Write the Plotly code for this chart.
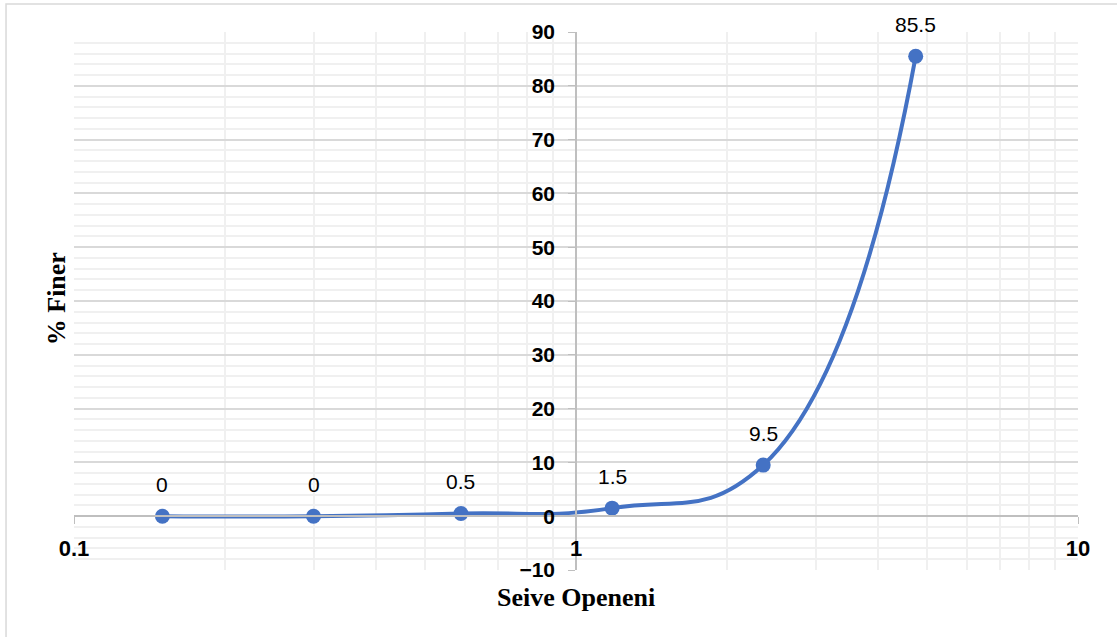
import math
import plotly.graph_objects as go

# Sieve analysis: opening size (mm) vs cumulative percent finer
sieve_size = [0.15, 0.3, 0.59, 1.18, 2.36, 4.75]
percent_finer = [0, 0, 0.5, 1.5, 9.5, 85.5]
point_labels = ["0", "0", "0.5", "1.5", "9.5", "85.5"]

x_range = [0.1, 10]
y_range = [-10, 90]
x_tick_vals = [0.1, 1, 10]
x_tick_text = ["0.1", "1", "10"]
x_minor_vals = [m * d for d in (0.1, 1) for m in range(2, 10)]

LINE_BLUE = "#4472C4"
MAJOR_GRID = "#d9d9d9"
MINOR_GRID = "#f0f0f0"
AXIS_GRAY = "#bfbfbf"
NUM_FONT = "Liberation Sans"
TITLE_FONT = "Liberation Serif"

# axis crossings: y axis at x = 1, x axis at y = 0
log_lo, log_hi = math.log10(x_range[0]), math.log10(x_range[1])
y_axis_pos = (math.log10(1) - log_lo) / (log_hi - log_lo)
x_axis_pos = (0 - y_range[0]) / (y_range[1] - y_range[0])

fig = go.Figure()
fig.add_trace(go.Scatter(
    x=sieve_size,
    y=percent_finer,
    mode="lines+markers",
    line=dict(color=LINE_BLUE, width=4, shape="spline", smoothing=1.3),
    marker=dict(color=LINE_BLUE, size=15),
    hoverinfo="x+y",
    showlegend=False,
))

for xv, yv, lab in zip(sieve_size, percent_finer, point_labels):
    fig.add_annotation(
        x=math.log10(xv), y=yv, xref="x", yref="y", text=lab,
        showarrow=False, yshift=32,
        font=dict(family=NUM_FONT, size=21, color="#000000"),
    )

fig.add_annotation(
    x=0.5, y=-0.052, xref="paper", yref="paper", text="<b>Seive Openeni</b>",
    showarrow=False, xanchor="center", yanchor="middle",
    font=dict(family=TITLE_FONT, size=26, color="#000000"),
)
fig.add_annotation(
    x=-0.018, y=0.505, xref="paper", yref="paper", text="<b>% Finer</b>",
    showarrow=False, textangle=-90, xanchor="center", yanchor="middle",
    font=dict(family=TITLE_FONT, size=26, color="#000000"),
)

# chart frame
fig.add_shape(
    type="rect", xref="paper", yref="paper",
    x0=-0.0677, x1=1.1, y0=-0.2, y1=1.052,
    line=dict(color=MAJOR_GRID, width=1.5), fillcolor="rgba(0,0,0,0)",
    layer="below",
)

fig.update_layout(
    width=1117,
    height=637,
    margin=dict(l=74, r=39, t=32, b=67),
    paper_bgcolor="white",
    plot_bgcolor="white",
    xaxis=dict(
        type="log",
        range=[log_lo, log_hi],
        anchor="free",
        position=x_axis_pos,
        tickvals=x_tick_vals,
        ticktext=x_tick_text,
        tickfont=dict(family=NUM_FONT, size=22, color="#000000", weight="bold"),
        ticks="outside",
        ticklen=7,
        tickcolor=AXIS_GRAY,
        ticklabelstandoff=6,
        showline=True,
        linecolor=AXIS_GRAY,
        linewidth=1.5,
        showgrid=True,
        gridcolor=MAJOR_GRID,
        gridwidth=1.5,
        minor=dict(tickvals=x_minor_vals, showgrid=True, gridcolor=MINOR_GRID,
                   gridwidth=1.5, ticks=""),
        zeroline=False,
    ),
    yaxis=dict(
        range=y_range,
        dtick=10,
        tick0=0,
        anchor="free",
        position=y_axis_pos,
        tickfont=dict(family=NUM_FONT, size=21, color="#000000", weight="bold"),
        ticks="outside",
        ticklen=7,
        tickcolor=AXIS_GRAY,
        ticklabelstandoff=9,
        showline=True,
        linecolor=AXIS_GRAY,
        linewidth=1.5,
        showgrid=True,
        gridcolor=MAJOR_GRID,
        gridwidth=1.5,
        minor=dict(dtick=2, tick0=0, showgrid=True, gridcolor=MINOR_GRID,
                   gridwidth=1.5, ticks=""),
        zeroline=False,
    ),
)

fig.write_html("out.html")
